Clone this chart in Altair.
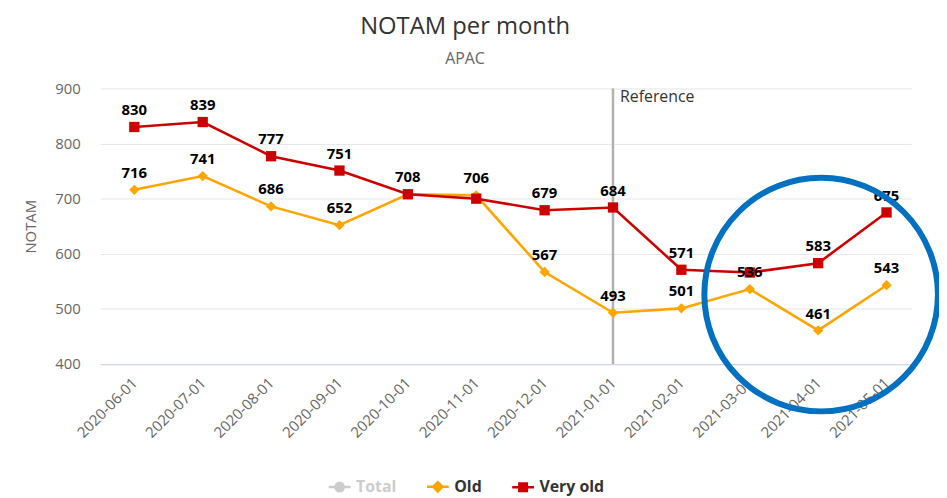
import altair as alt
import pandas as pd

months = ["2020-06-01", "2020-07-01", "2020-08-01", "2020-09-01", "2020-10-01", "2020-11-01",
          "2020-12-01", "2021-01-01", "2021-02-01", "2021-03-01", "2021-04-01", "2021-05-01"]
old = [716, 741, 686, 652, 708, 706, 567, 493, 501, 536, 461, 543]
very_old = [830, 839, 777, 751, 708, 700, 679, 684, 571, 566, 583, 675]
old_label_shown = [1, 1, 1, 1, 0, 1, 1, 1, 1, 1, 1, 1]
very_old_label_shown = [1, 1, 1, 1, 1, 0, 1, 1, 1, 0, 1, 1]

series_names = ["Total", "Old", "Very old"]
series_colors = ["#cccccc", "#ffa500", "#cc0000"]
point_shapes = ["circle", "diamond", "square"]
legend_shapes = [
    "M-1,0H1M0.38,0A0.38,0.38,0,1,1,-0.38,0A0.38,0.38,0,1,1,0.38,0Z",
    "M-1,0H1M0,-0.42L0.42,0L0,0.42L-0.42,0Z",
    "M-1,0H1M-0.34,-0.34H0.34V0.34H-0.34Z",
]

reference_month = "2021-01-01"
reference_text = "Reference"
highlight_month = "2021-04-01"
highlight_value = 526

FONT = "Open Sans"

rows = []
for m, v, s in zip(months, old, old_label_shown):
    rows.append({"month": m, "value": v, "series": "Old", "label": str(v) if s else ""})
for m, v, s in zip(months, very_old, very_old_label_shown):
    rows.append({"month": m, "value": v, "series": "Very old", "label": str(v) if s else ""})
df = pd.DataFrame(rows)
df_labels = df[df["label"] != ""]

ref_df = pd.DataFrame({"month": [reference_month], "value": [900], "text": [reference_text]})
ring_df = pd.DataFrame({"month": [highlight_month], "value": [highlight_value]})
legend_df = pd.DataFrame({"series": series_names})

x_scale = alt.Scale(type="point", padding=0.43, align=0.58, domain=months)
x_enc = alt.X("month:O", sort=months, scale=x_scale,
              axis=alt.Axis(title=None, labelAngle=-45, labelAlign="right", labelBaseline="middle",
                            labelPadding=16, tickSize=0, domainColor="#ccd6eb", domainWidth=1.3,
                            labelColor="#666666", labelFontSize=15, labelFont=FONT, grid=False))
y_enc = alt.Y("value:Q",
              scale=alt.Scale(domain=[400, 900], nice=False, zero=False),
              axis=alt.Axis(title="NOTAM", values=[400, 500, 600, 700, 800, 900], tickSize=0,
                            domain=False, labelPadding=20, titlePadding=17, labelColor="#666666",
                            labelFontSize=15, labelFont=FONT, titleColor="#666666", titleFontSize=15,
                            titleFont=FONT, titleFontWeight="normal", gridColor="#e6e6e6"))

color_scale = alt.Scale(domain=series_names, range=series_colors)

rule = alt.Chart(ref_df).mark_rule(color="#b0b0b0", strokeWidth=2.5).encode(
    x=alt.X("month:O", sort=months, scale=x_scale))

lines = alt.Chart(df).mark_line(strokeWidth=2.6).encode(
    x=x_enc, y=y_enc,
    color=alt.Color("series:N", scale=color_scale, legend=None),
    order=alt.Order("month:O"))

points = alt.Chart(df).mark_point(filled=True, size=108, opacity=1).encode(
    x=x_enc, y=y_enc,
    color=alt.Color("series:N", scale=color_scale, legend=None),
    shape=alt.Shape("series:N", scale=alt.Scale(domain=series_names, range=point_shapes), legend=None))

labels = alt.Chart(df_labels).mark_text(font=FONT, fontSize=15, fontWeight="bold", color="#000000",
                                        dy=-17, baseline="middle").encode(
    x=x_enc, y=y_enc, text="label:N")

ref_label = alt.Chart(ref_df).mark_text(font=FONT, fontSize=16, color="#333333", align="left",
                                        baseline="top", dx=7, dy=1).encode(
    x=x_enc, y=y_enc, text="text:N")

ring = alt.Chart(ring_df).mark_point(shape="circle", size=55500, filled=False, stroke="#0070c0",
                                     strokeWidth=6, opacity=1, xOffset=3).encode(x=x_enc, y=y_enc)

leg = alt.Legend(title=None, orient="none", legendX=229, legendY=389, direction="horizontal",
                 symbolSize=484, symbolStrokeWidth=2.6, symbolOpacity=1, labelFont=FONT,
                 labelFontSize=16, labelFontWeight="bold",
                 labelColor=alt.ExprRef("datum.label == 'Total' ? '#cccccc' : '#333333'"),
                 labelOffset=4, columnPadding=25, padding=0)

legend_layer = alt.Chart(legend_df).mark_point(filled=True, opacity=0).encode(
    color=alt.Color("series:N", scale=color_scale, legend=leg),
    stroke=alt.Stroke("series:N", scale=color_scale, legend=leg),
    shape=alt.Shape("series:N", scale=alt.Scale(domain=series_names, range=legend_shapes), legend=leg))

chart = alt.layer(rule, lines, points, labels, ref_label, ring, legend_layer).resolve_scale(
    color="independent", shape="independent", stroke="independent"
).properties(
    width=818, height=278,
    title=alt.TitleParams("NOTAM per month", subtitle="APAC", font=FONT, fontSize=24,
                          fontWeight="normal", color="#333333", subtitleFont=FONT,
                          subtitleFontSize=16, subtitleColor="#666666", subtitlePadding=12,
                          anchor="middle", frame="group", dx=-41, offset=15),
    autosize=alt.AutoSizeParams(type="none"),
    padding={"left": 93, "top": 79, "right": 28, "bottom": 133},
).configure_view(stroke=None)

chart.save("out.html", embed_options={"renderer": "svg", "actions": False})
